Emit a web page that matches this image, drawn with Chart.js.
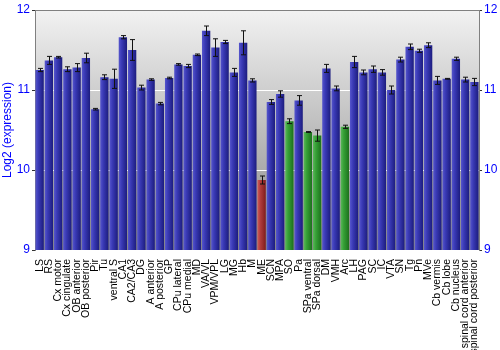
<!DOCTYPE html>
<html>
<head>
<meta charset="utf-8">
<script src="https://cdn.jsdelivr.net/npm/chart.js@4"></script>
<style>
  body { margin: 0; background: #fff; }
</style>
</head>
<body>
<canvas id="chartCanvas" width="500" height="350"></canvas>
<script>
//data
const regions = ["LS", "RS", "Cx motor", "Cx cingulate", "OB anterior", "OB posterior", "Pir", "Tu",
  "ventral S", "CA1", "CA2/CA3", "DG", "A anterior", "A posterior", "GP", "CPu lateral", "CPu medial",
  "MD", "VA/VL", "VPM/VPL", "LG", "MG", "Hb", "M", "ME", "SCN", "MPA", "SO", "Pa", "SPa ventral",
  "SPa dorsal", "DM", "VMH", "Arc", "LH", "PAG", "SC", "IC", "VTA", "SN", "Tg", "Pn", "MVe",
  "Cb vermis", "Cb lobe", "Cb nucleus", "spinal cord anterior", "spinal cord posterior"];
const expr = [11.25, 11.37, 11.41, 11.26, 11.28, 11.40, 10.76, 11.16,
  11.14, 11.66, 11.50, 11.03, 11.13, 10.83, 11.15, 11.32, 11.30,
  11.44, 11.74, 11.53, 11.60, 11.22, 11.59, 11.12, 9.875, 10.85, 10.95, 10.61, 10.87, 10.475,
  10.43, 11.27, 11.02, 10.54, 11.35, 11.22, 11.26, 11.22, 11.00, 11.38, 11.54, 11.49, 11.56,
  11.12, 11.14, 11.39, 11.13, 11.10];
const errs = [0.02, 0.05, 0.01, 0.03, 0.05, 0.06, 0.01, 0.03,
  0.12, 0.02, 0.13, 0.03, 0.01, 0.015, 0.01, 0.01, 0.02,
  0.01, 0.06, 0.11, 0.02, 0.05, 0.15, 0.02, 0.05, 0.03, 0.04, 0.03, 0.06, 0.005,
  0.07, 0.05, 0.03, 0.02, 0.07, 0.03, 0.04, 0.035, 0.05, 0.03, 0.035, 0.02, 0.03,
  0.05, 0.005, 0.02, 0.03, 0.045];
// b = blue, r = red, g = green
const groups = ["b", "b", "b", "b", "b", "b", "b", "b",
  "b", "b", "b", "b", "b", "b", "b", "b", "b",
  "b", "b", "b", "b", "b", "b", "b", "r", "b", "b", "g", "b", "g",
  "g", "b", "b", "g", "b", "b", "b", "b", "b", "b", "b", "b", "b",
  "b", "b", "b", "b", "b"];
const yTicks = [9, 10, 11, 12];

const shades = {
  b: ["#5656cc", "#3a3ab6", "#1c1c7e"],
  r: ["#cc5a5a", "#b03c3c", "#7e1c1c"],
  g: ["#5ab85a", "#36a036", "#1c701c"],
};

function barFill(ctx) {
  const chart = ctx.chart;
  const c = shades[groups[ctx.dataIndex]] || shades.b;
  if (!chart.chartArea || !chart.scales.x) return c[1];
  const x = chart.scales.x.getPixelForValue(ctx.dataIndex);
  const w = (chart.chartArea.right - chart.chartArea.left) / regions.length * 0.9;
  const g = chart.ctx.createLinearGradient(x - w / 2, 0, x + w / 2, 0);
  g.addColorStop(0, c[0]);
  g.addColorStop(0.35, c[1]);
  g.addColorStop(1, c[2]);
  return g;
}

//grey gradient behind the bars + top frame line
const backdrop = {
  id: "backdrop",
  beforeDraw(chart) {
    const a = chart.chartArea;
    const ctx = chart.ctx;
    const g = ctx.createLinearGradient(0, a.top, 0, a.bottom);
    g.addColorStop(0, "#f2f2f2");
    g.addColorStop(1, "#888888");
    ctx.save();
    ctx.fillStyle = g;
    ctx.fillRect(a.left, a.top, a.right - a.left, a.bottom - a.top);
    ctx.restore();
  },
  afterDraw(chart) {
    const a = chart.chartArea;
    const ctx = chart.ctx;
    ctx.save();
    ctx.strokeStyle = "#808080";
    ctx.lineWidth = 1;
    ctx.beginPath();
    ctx.moveTo(a.left, a.top + 0.5);
    ctx.lineTo(a.right, a.top + 0.5);
    ctx.stroke();
    ctx.restore();
  },
};

//error bars
const errorBars = {
  id: "errorBars",
  afterDatasetsDraw(chart) {
    const ctx = chart.ctx;
    const y = chart.scales.y;
    const meta = chart.getDatasetMeta(0);
    ctx.save();
    ctx.strokeStyle = "#111";
    ctx.lineWidth = 1;
    meta.data.forEach((bar, i) => {
      const x = Math.round(bar.x) + 0.5;
      const top = y.getPixelForValue(expr[i] + errs[i]);
      const bot = y.getPixelForValue(expr[i] - errs[i]);
      ctx.beginPath();
      ctx.moveTo(x, top);
      ctx.lineTo(x, bot);
      ctx.moveTo(x - 2.5, top);
      ctx.lineTo(x + 2.5, top);
      ctx.moveTo(x - 2.5, bot);
      ctx.lineTo(x + 2.5, bot);
      ctx.stroke();
    });
    ctx.restore();
  },
};

const blueText = "#0000ff";
const tickFont = { family: "Liberation Sans", size: 12 };

const chart = new Chart(document.getElementById("chartCanvas"), {
  type: "bar",
  data: {
    labels: regions,
    datasets: [
      {
        data: expr,
        backgroundColor: barFill,
        borderWidth: 0,
        barPercentage: 0.9,
        categoryPercentage: 1,
      },
    ],
  },
  options: {
    responsive: false,
    animation: false,
    devicePixelRatio: 1,
    layout: { padding: { top: 10, left: 0, right: 0, bottom: 0 } },
    plugins: { legend: { display: false }, tooltip: { enabled: false } },
    scales: {
      x: {
        grid: { display: false },
        border: { display: false },
        ticks: {
          autoSkip: false,
          minRotation: 90,
          maxRotation: 90,
          padding: 1,
          color: "#000",
          font: { family: "Liberation Sans", size: 10.5 },
        },
        afterFit: (s) => { s.height = 100; },
      },
      y: {
        position: "left",
        min: 9,
        max: 12,
        afterBuildTicks: (s) => { s.ticks = yTicks.map((v) => ({ value: v })); },
        grid: {
          color: (c) => (c.tick && (c.tick.value === 10 || c.tick.value === 11) ? "#ffffff" : "rgba(0,0,0,0)"),
          tickColor: "#333",
          tickLength: 3,
          lineWidth: 1,
        },
        border: { color: "#808080" },
        ticks: { color: blueText, font: tickFont, padding: 2 },
        title: {
          display: true,
          text: "Log2 (expression)",
          color: blueText,
          font: tickFont,
          padding: { top: 0, bottom: 2 },
        },
        afterFit: (s) => { s.width = 35; },
      },
      y2: {
        position: "right",
        min: 9,
        max: 12,
        afterBuildTicks: (s) => { s.ticks = yTicks.map((v) => ({ value: v })); },
        grid: { drawOnChartArea: false, tickColor: "#333", tickLength: 3 },
        border: { color: "#808080" },
        ticks: { color: blueText, font: tickFont, padding: 2 },
        afterFit: (s) => { s.width = 21; },
      },
    },
  },
  plugins: [backdrop, errorBars],
});
chart.update();
</script>
</body>
</html>
